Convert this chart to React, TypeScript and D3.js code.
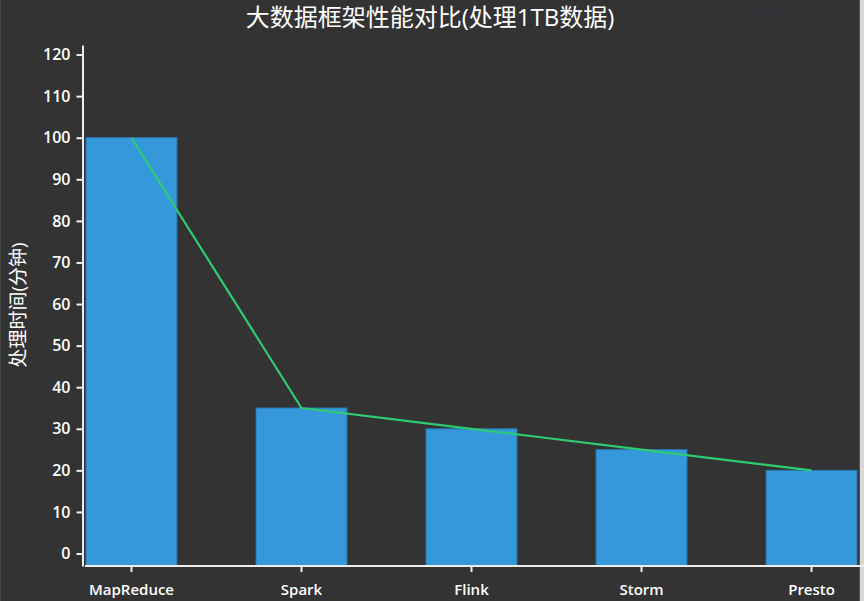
import React, { useEffect, useRef } from 'react';
import * as d3 from 'd3';

const frameworks = ['MapReduce', 'Spark', 'Flink', 'Storm', 'Presto'];
const minutes = [100, 35, 30, 25, 20];

const TITLE = '大数据框架性能对比(处理1TB数据)';
const Y_LABEL = '处理时间(分钟)';

const FONT = '"Open Sans", "Noto Sans CJK SC", sans-serif';

const App: React.FC = () => {
  const chartRef = useRef<SVGSVGElement | null>(null);

  useEffect(() => {
    const width = 864;
    const height = 601;
    const bottom = 566;

    d3.select(chartRef.current).selectAll('*').remove();

    const svg = d3.select(chartRef.current)
      .attr('width', width)
      .attr('height', height);

    // panel background and the light strip on the right edge
    svg.append('rect')
      .attr('width', width)
      .attr('height', height)
      .attr('fill', '#333333');
    svg.append('rect')
      .attr('x', 860)
      .attr('width', 4)
      .attr('height', height)
      .attr('fill', '#d8d8d8');
    svg.append('line')
      .attr('x1', 859.5)
      .attr('x2', 859.5)
      .attr('y1', 0)
      .attr('y2', height)
      .attr('stroke', '#555')
      .attr('stroke-width', 1);
    svg.append('line')
      .attr('x1', 0.5)
      .attr('x2', 0.5)
      .attr('y1', 0)
      .attr('y2', height)
      .attr('stroke', '#444')
      .attr('stroke-width', 1);

    // faint zoom controls behind the title
    const zoomCtl = [
      { t: '−', x: 713 },
      { t: '100%', x: 764 },
      { t: '+', x: 817 },
    ];
    zoomCtl.forEach(c => {
      svg.append('text')
        .attr('x', c.x)
        .attr('y', 15)
        .attr('text-anchor', 'middle')
        .attr('fill', '#2b3039')
        .style('font-family', FONT)
        .style('font-size', '15px')
        .text(c.t);
    });

    // scales
    const x = d3.scaleBand<string>()
      .domain(frameworks)
      .range([86, 857])
      .paddingInner(0.465)
      .paddingOuter(0);

    const y = d3.scaleLinear()
      .domain([-3, 122.3])
      .range([bottom, 45]);

    // title
    svg.append('text')
      .attr('x', 430)
      .attr('y', 26)
      .attr('text-anchor', 'middle')
      .attr('fill', '#fff')
      .style('font-family', FONT)
      .style('font-size', '24px')
      .text(TITLE);

    // bars
    svg.selectAll('.bar')
      .data(frameworks)
      .enter().append('rect')
      .attr('class', 'bar')
      .attr('x', d => x(d) as number)
      .attr('y', (d, i) => y(minutes[i]))
      .attr('width', x.bandwidth())
      .attr('height', (d, i) => bottom - y(minutes[i]))
      .attr('fill', '#3498db')
      .attr('stroke', '#2a78ad')
      .attr('stroke-width', 1);

    // trend line through bar centres
    const line = d3.line<number>()
      .x((d, i) => (x(frameworks[i]) as number) + x.bandwidth() / 2)
      .y(d => y(d));

    svg.append('path')
      .datum(minutes)
      .attr('d', line)
      .attr('fill', 'none')
      .attr('stroke', '#2ecc71')
      .attr('stroke-width', 2.2);

    // y axis
    const yAxis = svg.append('g')
      .attr('transform', 'translate(82.5,0)')
      .call(d3.axisLeft(y).tickValues(d3.range(0, 121, 10)).tickSize(6).tickPadding(6).tickSizeOuter(0));

    // x axis
    const xAxis = svg.append('g')
      .attr('transform', `translate(0,${bottom})`)
      .call(d3.axisBottom(x).tickSize(6).tickPadding(12).tickSizeOuter(0));

    [yAxis, xAxis].forEach(g => {
      g.selectAll('path, line')
        .attr('stroke', '#eeeeee')
        .attr('stroke-width', 2);
      g.selectAll('text')
        .attr('fill', '#fff')
        .style('font-family', FONT)
        .style('font-size', '15px')
        .style('font-weight', '600');
    });
    yAxis.selectAll('text').style('font-size', '16px');
    xAxis.select('.domain').attr('d', 'M85,0H864');

    // y axis label
    svg.append('text')
      .attr('transform', 'rotate(-90)')
      .attr('x', -305)
      .attr('y', 25)
      .attr('text-anchor', 'middle')
      .attr('fill', '#fff')
      .style('font-family', FONT)
      .style('font-size', '19px')
      .text(Y_LABEL);
  }, []);

  return (
    <svg
      ref={chartRef}
      style={{ position: 'fixed', left: 0, top: 0, display: 'block' }}
    ></svg>
  );
};

export default App;
